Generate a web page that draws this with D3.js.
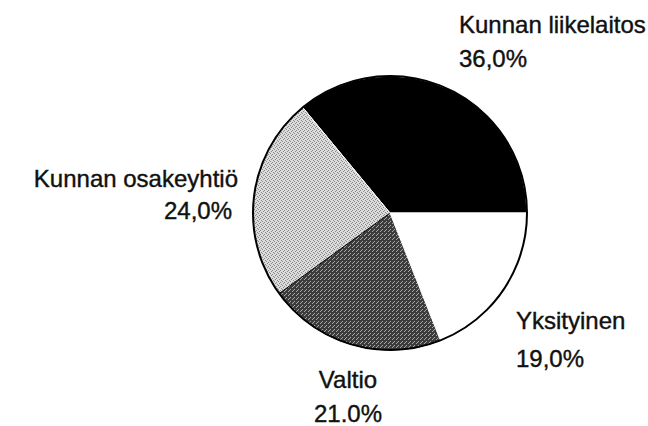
<!DOCTYPE html>
<html>
<head>
<meta charset="utf-8">
<script src="https://cdn.jsdelivr.net/npm/d3@7"></script>
<style>
    body { margin: 0; background: #fff; }
    text { font-family: 'Liberation Sans', Arial, Helvetica, sans-serif; font-size: 24px; fill: #111; stroke: #111; stroke-width: 0.4px; }
</style>
</head>
<body>
<div class="pie_container"></div>
<script>
// data
const categories = ['Kunnan liikelaitos', 'Kunnan osakeyhtiö', 'Valtio', 'Yksityinen']
const shares = [36.0, 24.0, 21.0, 19.0]
const shareLabels = ['36,0%', '24,0%', '21.0%', '19,0%']

const svg_width = 648
const svg_height = 426
const center = { x: 390, y: 213 }
const radius = 137

const svg = d3.select('.pie_container').append('svg')
    .attr('width', svg_width).attr('height', svg_height)

// fills: black, stippled light, stippled dark, white
const defs = svg.append('defs')
function stipple(id, bg, dot, cells) {
    const p = defs.append('pattern').attr('id', id)
        .attr('patternUnits', 'userSpaceOnUse')
        .attr('width', 4).attr('height', 4)
    p.append('rect').attr('width', 4).attr('height', 4).attr('fill', bg)
    cells.forEach(([x, y]) => {
        p.append('rect').attr('x', x).attr('y', y).attr('width', 1).attr('height', 1).attr('fill', dot)
    })
}
stipple('lightDots', '#dcdcdc', '#8a8a8a', [[0, 0], [2, 1], [1, 2], [3, 3]])
stipple('darkDots', '#3c3c3c', '#a8a8a8', [[0, 0], [2, 2], [3, 1]])
const fills = ['#000', 'url(#lightDots)', 'url(#darkDots)', '#fff']

// pie starts at 3 o'clock and runs counterclockwise
const pie = d3.pie().sort(null)
    .startAngle(Math.PI / 2)
    .endAngle(Math.PI / 2 - 2 * Math.PI)
const arc = d3.arc().innerRadius(0).outerRadius(radius)

const g = svg.append('g')
    .attr('transform', `translate(${center.x},${center.y})`)

g.selectAll('.slice').data(pie(shares))
    .enter()
    .append('path')
    .attr('class', 'slice')
    .attr('d', arc)
    .attr('fill', (d, i) => fills[i])
    .attr('stroke', (d, i) => i === 2 ? '#000' : '#fff')
    .attr('stroke-width', 1)

g.append('circle')
    .attr('r', radius)
    .attr('fill', 'none')
    .attr('stroke', '#000')
    .attr('stroke-width', 2)

// labels
const labelPos = [
    { x: 459, y: 33, dy: 34, anchor: 'start' },
    { x: 238, y: 187, dy: 32, anchor: 'end' },
    { x: 348, y: 388, dy: 34, anchor: 'middle' },
    { x: 516, y: 329, dy: 38, anchor: 'start' }
]

categories.forEach((c, i) => {
    const p = labelPos[i]
    const t = svg.append('text')
        .attr('text-anchor', p.anchor)
    t.append('tspan').attr('x', p.x).attr('y', p.y).text(c)
    t.append('tspan').attr('x', i === 1 ? p.x - 6 : p.x).attr('y', p.y + p.dy).text(shareLabels[i])
})
</script>
</body>
</html>
